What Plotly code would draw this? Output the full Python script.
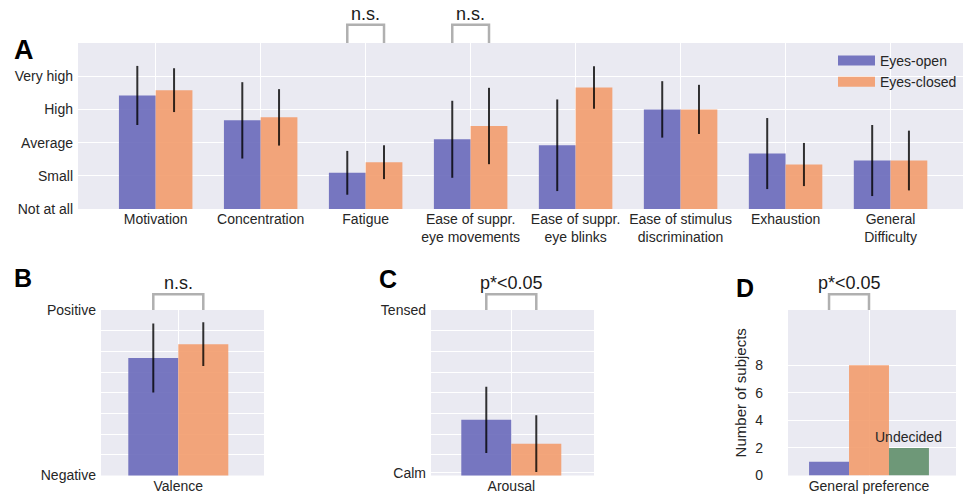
import plotly.graph_objects as go

W, H = 963, 495

# ---- Panel A: questionnaire ratings (0 = Not at all ... 4 = Very high) ----
questions = [
    "Motivation",
    "Concentration",
    "Fatigue",
    "Ease of suppr.<br>eye movements",
    "Ease of suppr.<br>eye blinks",
    "Ease of stimulus<br>discrimination",
    "Exhaustion",
    "General<br>Difficulty",
]
scale_labels = ["Not at all", "Small", "Average", "High", "Very high"]
open_mean = [3.42, 2.67, 1.09, 2.10, 1.92, 3.00, 1.67, 1.46]
open_sd = [0.89, 1.15, 0.66, 1.16, 1.38, 0.85, 1.07, 1.07]
closed_mean = [3.58, 2.76, 1.41, 2.50, 3.66, 3.00, 1.34, 1.46]
closed_sd = [0.66, 0.85, 0.51, 1.15, 0.64, 0.74, 0.65, 0.90]
ns_pairs_a = [2, 3]  # questions with a non-significant difference

# ---- Panel B: valence (SAM 1..9) ----
valence_open, valence_open_sd = 6.68, 1.67
valence_closed, valence_closed_sd = 7.35, 1.06

# ---- Panel C: arousal (SAM 1..9) ----
arousal_open, arousal_open_sd = 3.69, 1.60
arousal_closed, arousal_closed_sd = 2.54, 1.37
arousal_ticks = [1.14, 2, 3, 4, 5, 6, 7, 8, 9]
arousal_ticktext = ["Calm", "", "", "", "", "", "", "", "Tensed"]

# ---- Panel D: preferred condition ----
pref_groups = ["Eyes-open", "Eyes-closed", "Undecided"]
pref_counts = [1, 8, 2]

BLUE = "rgb(105,105,186)"
ORANGE = "rgb(243,156,109)"
GREEN = "rgb(97,143,106)"
SWATCH = {"Eyes-open": "#7676c0", "Eyes-closed": "#f2a47a"}
BG = "#eaeaf2"
TXT = "#262626"
BRACKET = "#b0b0b0"
FONT = "Liberation Sans, Arial, sans-serif"

BARGAP = 0.3
HALF = (1 - BARGAP) / 4          # centre offset of a bar in a two-bar group
W3 = (1 - BARGAP) / 3            # bar width in the three-bar group of panel D


def px(x):
    return x / W


def py(y):
    return 1 - y / H


def err(vals):
    return dict(type="data", array=vals, thickness=2, width=0,
                color="rgba(0,0,0,0.8)")


fig = go.Figure()

# Panel A bars
idx = list(range(len(questions)))
fig.add_trace(go.Bar(x=idx, y=open_mean, error_y=err(open_sd), name="Eyes-open",
                     marker=dict(color=BLUE, opacity=0.9, line=dict(width=0)),
                     showlegend=False, xaxis="x", yaxis="y"))
fig.add_trace(go.Bar(x=idx, y=closed_mean, error_y=err(closed_sd), name="Eyes-closed",
                     marker=dict(color=ORANGE, opacity=0.9, line=dict(width=0)),
                     showlegend=False, xaxis="x", yaxis="y"))
# legend entries with wide swatches
for nm in ["Eyes-open", "Eyes-closed"]:
    fig.add_trace(go.Scatter(x=[None], y=[None], mode="lines", name=nm,
                             line=dict(color=SWATCH[nm], width=10),
                             xaxis="x", yaxis="y", hoverinfo="skip"))

# Panel B
fig.add_trace(go.Bar(x=[0], y=[valence_open], error_y=err([valence_open_sd]),
                     marker=dict(color=BLUE, opacity=0.9, line=dict(width=0)),
                     showlegend=False, xaxis="x2", yaxis="y2"))
fig.add_trace(go.Bar(x=[0], y=[valence_closed], error_y=err([valence_closed_sd]),
                     marker=dict(color=ORANGE, opacity=0.9, line=dict(width=0)),
                     showlegend=False, xaxis="x2", yaxis="y2"))

# Panel C
fig.add_trace(go.Bar(x=[0], y=[arousal_open], error_y=err([arousal_open_sd]),
                     marker=dict(color=BLUE, opacity=0.9, line=dict(width=0)),
                     showlegend=False, xaxis="x3", yaxis="y3"))
fig.add_trace(go.Bar(x=[0], y=[arousal_closed], error_y=err([arousal_closed_sd]),
                     marker=dict(color=ORANGE, opacity=0.9, line=dict(width=0)),
                     showlegend=False, xaxis="x3", yaxis="y3"))

# Panel D
for name, count, col in zip(pref_groups, pref_counts, [BLUE, ORANGE, GREEN]):
    fig.add_trace(go.Bar(x=[0], y=[count], name=name,
                         marker=dict(color=col, opacity=0.9, line=dict(width=0)),
                         showlegend=False, xaxis="x4", yaxis="y4"))

tickfont = dict(family=FONT, size=14, color=TXT)
common_x = dict(showgrid=True, gridcolor="white", gridwidth=1.2, zeroline=False,
                showline=False, ticks="", tickfont=tickfont, fixedrange=True,
                automargin=False)
common_y = dict(showgrid=True, gridcolor="white", gridwidth=1.2, zeroline=False,
                showline=False, ticks="", tickfont=tickfont, fixedrange=True,
                ticklabelstandoff=4, automargin=False)

fig.update_layout(
    width=W, height=H,
    margin=dict(l=0, r=0, t=0, b=0, autoexpand=False),
    paper_bgcolor="white", plot_bgcolor=BG,
    barmode="group", bargap=BARGAP, bargroupgap=0,
    font=dict(family=FONT, size=14, color=TXT),
    showlegend=True,
    legend=dict(x=px(833), y=py(45), xanchor="left", yanchor="top",
                itemwidth=37, tracegroupgap=0,
                bgcolor="rgba(0,0,0,0)", font=dict(size=14, color=TXT),
                itemclick=False, itemdoubleclick=False),
    xaxis=dict(common_x, domain=[px(78), 1.0], range=[-0.74, 7.69],
               tickvals=idx, ticktext=questions, anchor="y"),
    yaxis=dict(common_y, domain=[py(209), py(43)], range=[0, 5],
               tickvals=list(range(len(scale_labels))), ticktext=scale_labels,
               anchor="x"),
    xaxis2=dict(common_x, domain=[px(101), px(264)], range=[-0.541, 0.60],
                tickvals=[0], ticktext=["Valence"], anchor="y2"),
    yaxis2=dict(common_y, domain=[py(475.5), py(310)], range=[1, 9],
                tickvals=list(range(1, 10)),
                ticktext=["Negative"] + [""] * 7 + ["Positive"], anchor="x2"),
    xaxis3=dict(common_x, domain=[px(431), px(594)], range=[-0.562, 0.579],
                tickvals=[0], ticktext=["Arousal"], anchor="y3"),
    yaxis3=dict(common_y, domain=[py(475.5), py(310)], range=[1, 9],
                tickvals=arousal_ticks, ticktext=arousal_ticktext, anchor="x3"),
    xaxis4=dict(common_x, domain=[px(788), px(956)], range=[-0.473, 0.508],
                tickvals=[0], ticktext=["General preference"], anchor="y4"),
    yaxis4=dict(common_y, domain=[py(475.5), py(310)], range=[0, 12],
                tickvals=[0, 2, 4, 6, 8], anchor="x4",
                title=dict(text="Number of subjects", standoff=4,
                           font=dict(size=15, color=TXT))),
)
fig.update_layout(yaxis4_ticklabelstandoff=24)

shapes = []
annotations = []


def bracket(xref, yref, x0, x1, top, label):
    shapes.append(dict(type="path", xref=xref, yref=yref + " domain",
                       path=f"M{x0},1 L{x0},{top} L{x1},{top} L{x1},1",
                       line=dict(color=BRACKET, width=2.5)))
    annotations.append(dict(xref=xref, yref=yref + " domain", x=(x0 + x1) / 2,
                            y=top, text=label, showarrow=False, yanchor="bottom",
                            xanchor="center", yshift=-1,
                            font=dict(family=FONT, size=18, color="#1a1a1a")))


for q in ns_pairs_a:
    bracket("x", "y", q - HALF, q + HALF, 1.11, "n.s.")
bracket("x2", "y2", -HALF, HALF, 1.095, "n.s.")
bracket("x3", "y3", -HALF, HALF, 1.095, "p*<0.05")
bracket("x4", "y4", -W3, 0, 1.095, "p*<0.05")

annotations.append(dict(xref="x4", yref="y4", x=W3, y=pref_counts[2],
                        text="Undecided", showarrow=False, yanchor="bottom",
                        xanchor="center", yshift=1,
                        font=dict(family=FONT, size=14, color=TXT)))

for letter, x, y, size in [("A", 23.5, 50, 27), ("B", 22.5, 277.5, 25),
                           ("C", 387.5, 278.5, 25), ("D", 745, 288, 25)]:
    annotations.append(dict(xref="paper", yref="paper", x=px(x), y=py(y),
                            text=f"<b>{letter}</b>", showarrow=False,
                            xanchor="center", yanchor="middle",
                            font=dict(family=FONT, size=size, color="black")))

fig.update_layout(shapes=shapes, annotations=annotations)
fig.write_html("out.html")
